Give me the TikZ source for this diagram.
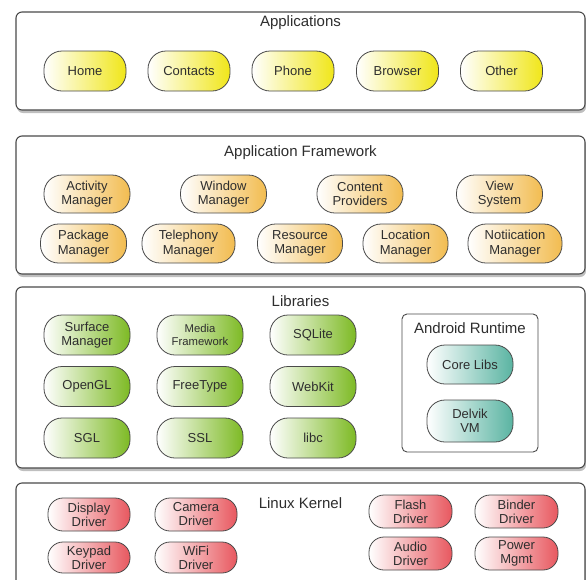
\documentclass[tikz,border=0pt]{standalone}
\usepackage{fontspec}
\setmainfont{Liberation Sans}
\usetikzlibrary{shadows}
\definecolor{txt}{HTML}{2E2E2E}
\definecolor{edge}{HTML}{4A4A4A}
\definecolor{cyel}{RGB}{240,230,25}
\definecolor{corg}{RGB}{242,188,80}
\definecolor{cgrn}{RGB}{125,186,36}
\definecolor{ctea}{RGB}{90,180,162}
\definecolor{cred}{RGB}{232,88,95}
\tikzset{
  layer/.style={draw=edge, line width=1.1pt, rounded corners=6pt, fill=white,
    drop shadow={shadow xshift=1pt, shadow yshift=-3pt, opacity=0.5}},
  runtime/.style={draw=edge, line width=0.9pt, rounded corners=5pt, fill=white},
  ttl/.style={text=txt, font=\fontsize{15}{17}\selectfont, inner sep=0pt},
  pill/.style={draw=edge, line width=0.8pt, rounded corners=18pt, text=txt,
    font=\fontsize{13}{14.5}\selectfont, align=center, inner sep=0pt,
    left color=white, right color=#1},
}
\begin{document}
\begin{tikzpicture}[x=1pt,y=-1pt]
\clip (0,0) rectangle (586,579);
\useasboundingbox (0,0) rectangle (586,579);
\fill[white] (0,0) rectangle (586,579);

% Applications
\node[layer, minimum width=569pt, minimum height=98pt] (apps) at (300.5,61) {};
\node[ttl] (appsT) at (300.5,23) {Applications};
\foreach \n/\x/\t in {home/85/Home, contacts/189/Contacts, phone/293/Phone, browser/397.5/Browser, other/501.5/Other}
  \node[pill=cyel, minimum width=82pt, minimum height=40pt] (\n) at (\x,71) {\t};

% Application Framework
\node[layer, minimum width=569pt, minimum height=138pt] (fw) at (300.5,205) {};
\node[ttl] (fwT) at (300.5,153) {Application Framework};
\foreach \n/\x/\t in {activity/87/{Activity\\Manager}, window/223.5/{Window\\Manager}, content/360/{Content\\Providers}, view/499.5/{View\\System}}
  \node[pill=corg, minimum width=86pt, minimum height=38pt] (\n) at (\x,194) {\t};
\node[pill=corg, minimum width=86pt, minimum height=39pt] (package) at (83.5,243.5) {Package\\Manager};
\node[pill=corg, minimum width=93pt, minimum height=39pt] (telephony) at (188.5,243.5) {Telephony\\Manager};
\node[pill=corg, minimum width=85pt, minimum height=39pt] (resource) at (300,243.5) {Resource\\Manager};
\node[pill=corg, minimum width=85pt, minimum height=39pt] (location) at (405.5,243.5) {Location\\Manager};
\node[pill=corg, minimum width=94pt, minimum height=39pt] (notification) at (515,243.5) {Notiication\\Manager};

% Libraries
\node[layer, minimum width=569pt, minimum height=181pt] (libs) at (300.5,377.5) {};
\node[ttl] (libsT) at (300.5,301) {Libraries};
\node[pill=cgrn, minimum width=86pt, minimum height=40pt] (surface) at (87,335) {Surface\\Manager};
\node[pill=cgrn, minimum width=86pt, minimum height=40pt, font=\fontsize{11.3}{13}\selectfont] (media) at (200,335) {Media\\Framework};
\node[pill=cgrn, minimum width=86pt, minimum height=40pt] (sqlite) at (313,335) {SQLite};
\node[pill=cgrn, minimum width=86pt, minimum height=40pt] (opengl) at (87,386.5) {OpenGL};
\node[pill=cgrn, minimum width=86pt, minimum height=40pt] (freetype) at (200,386.5) {FreeType};
\node[pill=cgrn, minimum width=86pt, minimum height=40pt] (webkit) at (313,386.5) {WebKit};
\node[pill=cgrn, minimum width=86pt, minimum height=40pt] (sgl) at (87,438) {SGL};
\node[pill=cgrn, minimum width=86pt, minimum height=40pt] (ssl) at (200,438) {SSL};
\node[pill=cgrn, minimum width=86pt, minimum height=40pt] (libc) at (313,438) {libc};

% Android Runtime
\node[runtime, minimum width=136pt, minimum height=138pt] (rt) at (470,383) {};
\node[ttl] (rtT) at (470,328) {Android Runtime};
\node[pill=ctea, minimum width=86pt, minimum height=39pt] (core) at (470,364.5) {Core Libs};
\node[pill=ctea, minimum width=86pt, minimum height=42pt] (dalvik) at (470,421) {Delvik\\VM};

% Linux Kernel
\node[layer, minimum width=569pt, minimum height=120pt] (kern) at (300.5,543) {};
\node[ttl] (kernT) at (300.5,503) {Linux Kernel};
\tikzset{kp/.style={pill=cred, font=\fontsize{13}{14}\selectfont, rounded corners=15pt}}
\node[kp, minimum width=82pt, minimum height=33pt] (display) at (89,514.5) {Display\\Driver};
\node[kp, minimum width=82pt, minimum height=33pt] (camera) at (196,514.5) {Camera\\Driver};
\node[kp, minimum width=82pt, minimum height=31pt] (keypad) at (89,557.5) {Keypad\\Driver};
\node[kp, minimum width=82pt, minimum height=31pt] (wifi) at (196,557.5) {WiFi\\Driver};
\node[kp, minimum width=83pt, minimum height=33pt] (flash) at (410.5,511.5) {Flash\\Driver};
\node[kp, minimum width=83pt, minimum height=33pt] (binder) at (516.5,511.5) {Binder\\Driver};
\node[kp, minimum width=83pt, minimum height=33pt] (audio) at (410.5,553.5) {Audio\\Driver};
\node[kp, minimum width=83pt, minimum height=33pt] (power) at (516.5,553.5) {Power\\Mgmt};
\end{tikzpicture}
\end{document}
